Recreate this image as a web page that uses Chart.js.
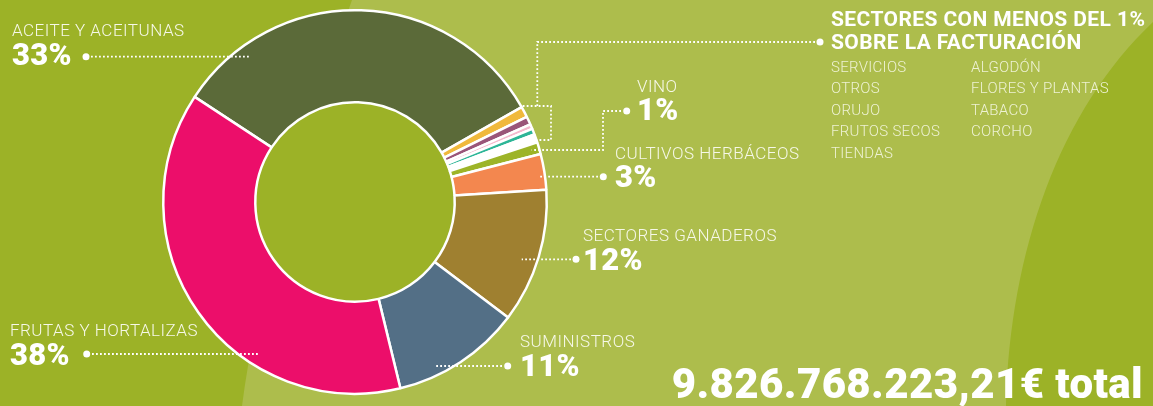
<!DOCTYPE html>
<html lang="es">
<head>
<meta charset="utf-8">
<title>Facturación por sectores</title>
<script src="https://cdn.jsdelivr.net/npm/chart.js@4.4.1/dist/chart.umd.min.js"></script>
<style>
  html, body { margin: 0; padding: 0; }
  body { width: 1153px; height: 406px; overflow: hidden; background: #9cb227; position: relative;
         font-family: Roboto, "Open Sans", sans-serif; }
  #chart { position: absolute; left: 0; top: 0; }
  .t { position: absolute; white-space: nowrap; line-height: 1; color: #fff; }
  .name { font-weight: 300; color: #f6f8e8; letter-spacing: 0.5px; }
  .pct { font-weight: 900; letter-spacing: 0.3px; }
  .head { font-weight: 700; letter-spacing: 0.4px; }
  .item { font-weight: 300; color: #eef2d4; letter-spacing: 0.3px; }
  .total { font-weight: 900; letter-spacing: 0.4px; }
</style>
</head>
<body>
<canvas id="chart" width="1153" height="406"></canvas>
<div id="texts"></div>
<script>
// slices, clockwise from the top-left edge of "aceite"
const sliceLabels = ['ACEITE Y ACEITUNAS', 'MENOS DEL 1% (a)', 'MENOS DEL 1% (b)', 'MENOS DEL 1% (c)',
  'MENOS DEL 1% (d)', 'MENOS DEL 1% (e)', 'VINO', 'CULTIVOS HERBÁCEOS', 'SECTORES GANADEROS',
  'SUMINISTROS', 'FRUTAS Y HORTALIZAS'];
const sliceValues = [32.5, 0.9, 0.7, 0.4, 0.5, 0.7, 1.0, 3.0, 11.3, 10.9, 38.0];
const sliceColors = ['#5b6a39', '#f0b93c', '#9a5579', '#f4b8cd', '#2db597', '#ffffff',
  '#9db428', '#f3874f', '#9f8030', '#536f86', '#ec0e6a'];

// callouts as printed on the picture
const calloutNames = ['ACEITE Y ACEITUNAS', 'FRUTAS Y HORTALIZAS', 'SUMINISTROS',
  'SECTORES GANADEROS', 'CULTIVOS HERBÁCEOS', 'VINO'];
const calloutPercents = [33, 38, 11, 12, 3, 1];

const minorTitle = ['SECTORES CON MENOS DEL 1%', 'SOBRE LA FACTURACIÓN'];
const minorCol1 = ['SERVICIOS', 'OTROS', 'ORUJO', 'FRUTOS SECOS', 'TIENDAS'];
const minorCol2 = ['ALGODÓN', 'FLORES Y PLANTAS', 'TABACO', 'CORCHO'];
const totalText = '9.826.768.223,21€ total';

// layout of the text blocks (x, baselines)
const calloutPos = [
  { x: 12, nb: 36, pb: 65 },
  { x: 10, nb: 336.7, pb: 365 },
  { x: 520, nb: 347.3, pb: 375.7 },
  { x: 583, nb: 241, pb: 270 },
  { x: 615, nb: 159, pb: 187.3 },
  { x: 637, nb: 92.3, pb: 120 }
];

const box = document.getElementById('texts');
function putText(str, cls, x, baseline, size, right) {
  const d = document.createElement('div');
  d.className = 't ' + cls;
  d.textContent = str;
  d.style.fontSize = size + 'px';
  d.style.top = (baseline - 0.842 * size) + 'px';
  if (right) d.style.right = x + 'px'; else d.style.left = x + 'px';
  box.appendChild(d);
}

calloutNames.forEach((n, i) => {
  const p = calloutPos[i];
  putText(n, 'name', p.x, p.nb, 17);
  putText(calloutPercents[i] + '%', 'pct', p.x, p.pb, 31);
});
minorTitle.forEach((s, i) => putText(s, 'head', 831, [26.7, 50][i], 21));
minorCol1.forEach((s, i) => putText(s, 'item', 831, 72.3 + i * 21.5, 15));
minorCol2.forEach((s, i) => putText(s, 'item', 971, 72.3 + i * 21.5, 15));
putText(totalText, 'total', 10, 398, 42, true);

// background bands
const backdrop = {
  id: 'backdrop',
  beforeDraw(chart) {
    const c = chart.ctx;
    c.save();
    c.fillStyle = '#9cb227';
    c.fillRect(0, 0, chart.width, chart.height);
    c.fillStyle = '#adbd4c';
    c.beginPath();
    c.moveTo(352, 0);
    c.lineTo(1153, 0);
    c.lineTo(1153, 22);
    c.bezierCurveTo(1060, 110, 1010, 250, 1006, 406);
    c.lineTo(242, 406);
    c.quadraticCurveTo(262, 250, 352, 0);
    c.closePath();
    c.fill();
    c.restore();
  }
};

// fill the hole of the ring
const hole = {
  id: 'hole',
  beforeDatasetsDraw(chart) {
    const arc = chart.getDatasetMeta(0).data[0];
    if (!arc) return;
    const c = chart.ctx;
    c.save();
    c.fillStyle = '#9cb227';
    c.beginPath();
    c.arc(arc.x, arc.y, arc.innerRadius, 0, Math.PI * 2);
    c.fill();
    c.restore();
  }
};

// dotted leader lines
const leaderPaths = [
  [[91, 56.7], [249, 56.7]],
  [[92, 354], [258, 354]],
  [[502, 366], [436, 366]],
  [[571, 259.3], [521.7, 259.3]],
  [[598, 176.7], [539, 176.7]],
  [[621, 111], [603, 111], [603, 150], [531.7, 150]],
  [[815, 42], [537.3, 42], [537.3, 106]],
  [[522.7, 106], [551, 106], [551, 140], [536.7, 140]]
];
const leaderDots = [[86, 56.7], [86.7, 354], [507.7, 366], [576, 259.3], [603.3, 176.7], [626.7, 111], [820, 42]];

const leaders = {
  id: 'leaders',
  afterDatasetsDraw(chart) {
    const c = chart.ctx;
    c.save();
    c.strokeStyle = '#ffffff';
    c.fillStyle = '#ffffff';
    c.lineWidth = 1.8;
    c.setLineDash([1.8, 2.2]);
    leaderPaths.forEach(p => {
      c.beginPath();
      c.moveTo(p[0][0], p[0][1]);
      for (let i = 1; i < p.length; i++) c.lineTo(p[i][0], p[i][1]);
      c.stroke();
    });
    c.setLineDash([]);
    leaderDots.forEach(d => {
      c.beginPath();
      c.arc(d[0], d[1], 3.5, 0, Math.PI * 2);
      c.fill();
    });
    c.restore();
  }
};

new Chart(document.getElementById('chart'), {
  type: 'doughnut',
  data: {
    labels: sliceLabels,
    datasets: [{
      data: sliceValues,
      backgroundColor: sliceColors,
      borderColor: '#ffffff',
      borderWidth: 2.5
    }]
  },
  options: {
    responsive: false,
    animation: false,
    events: [],
    rotation: -56.75,
    cutout: '52%',
    layout: { padding: { left: 162, top: 9, right: 605, bottom: 11 } },
    plugins: { legend: { display: false }, tooltip: { enabled: false } }
  },
  plugins: [backdrop, hole, leaders]
});
</script>
</body>
</html>
